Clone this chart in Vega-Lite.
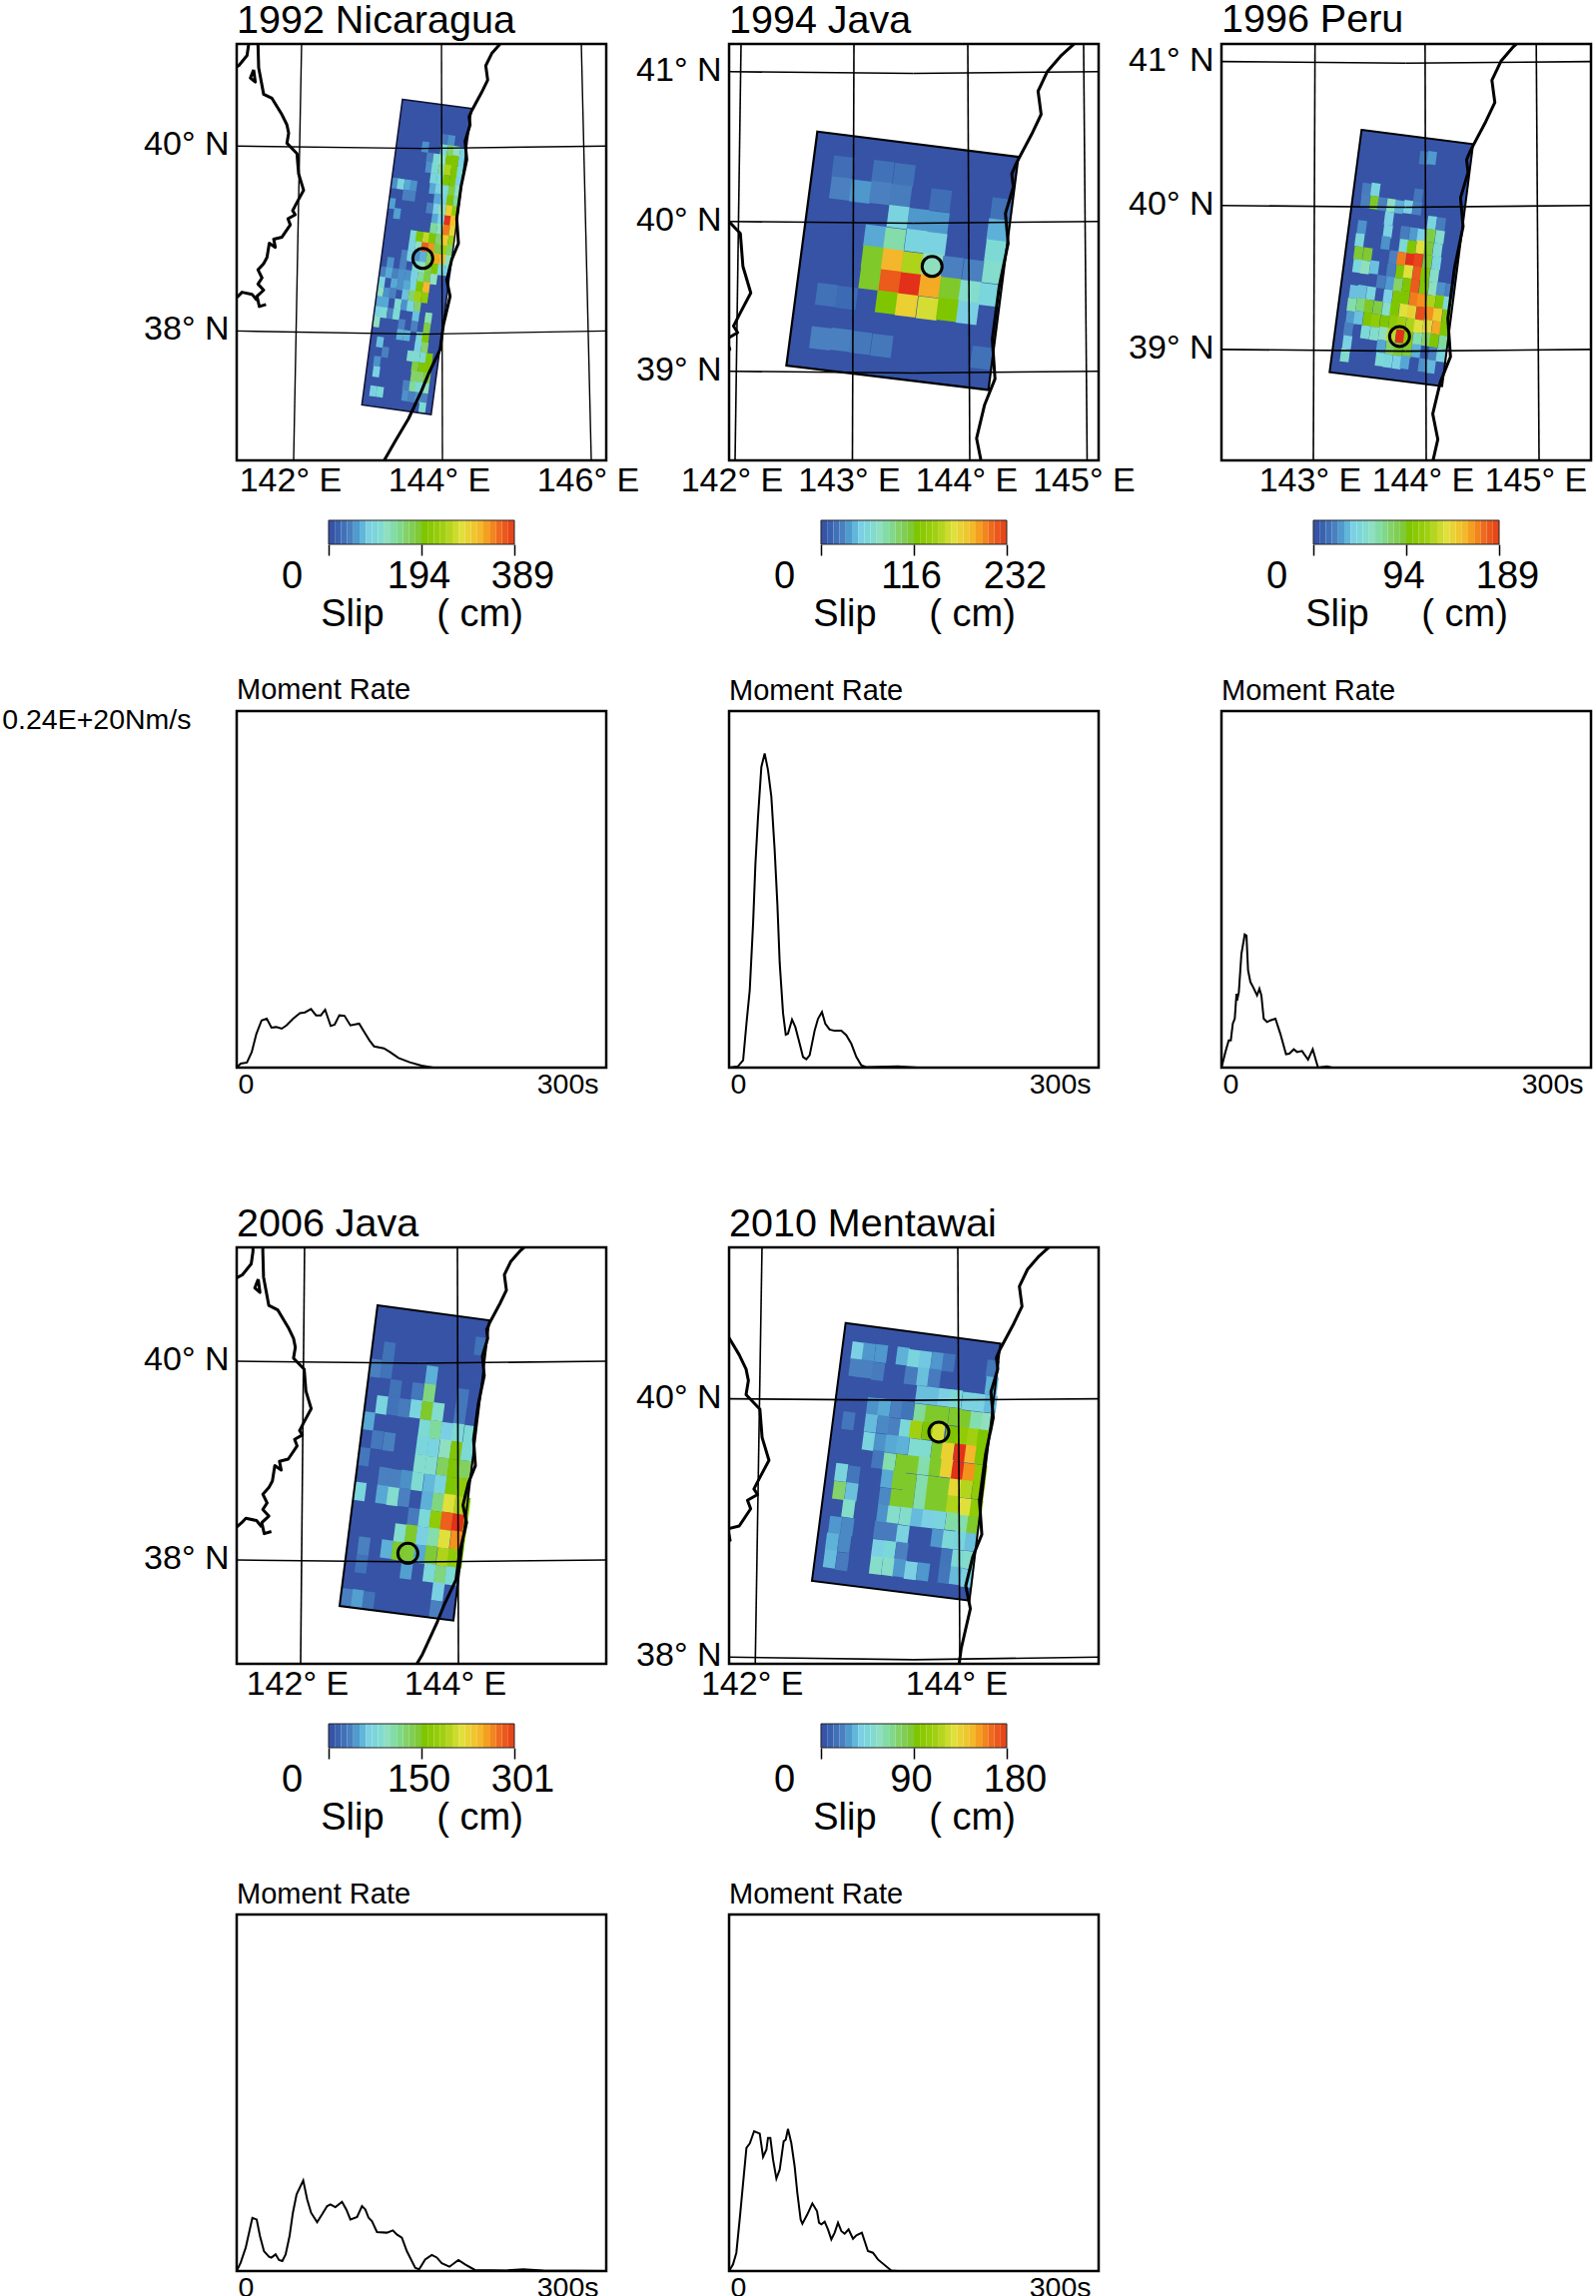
{"$schema":"https://vega.github.io/schema/vega-lite/v6.json","padding":{"left":0,"top":-2,"right":0,"bottom":0},"background":"white",
"config":{"font":"Liberation Sans","view":{"stroke":"black","strokeWidth":2.5},"axis":{"grid":false,"ticks":false,"domain":false,"labelColor":"black","titleColor":"black","labelFont":"Liberation Sans","titleFont":"Liberation Sans","titleFontWeight":"normal","labelLimit":400},"title":{"anchor":"start","frame":"group","font":"Liberation Sans","fontWeight":"normal","color":"black"}},
"datasets":{
"coast":[{"seg":"e","i":0,"lon":145.05,"lat":41.3},{"seg":"e","i":1,"lon":144.774,"lat":41.104},{"seg":"e","i":2,"lon":144.662,"lat":41.002},{"seg":"e","i":3,"lon":144.582,"lat":40.87},{"seg":"e","i":4,"lon":144.608,"lat":40.715},{"seg":"e","i":5,"lon":144.528,"lat":40.583},{"seg":"e","i":6,"lon":144.394,"lat":40.384},{"seg":"e","i":7,"lon":144.358,"lat":40.318},{"seg":"e","i":8,"lon":144.371,"lat":40.23},{"seg":"e","i":9,"lon":144.304,"lat":40.053},{"seg":"e","i":10,"lon":144.327,"lat":39.854},{"seg":"e","i":11,"lon":144.251,"lat":39.567},{"seg":"e","i":12,"lon":144.192,"lat":39.214},{"seg":"e","i":13,"lon":144.215,"lat":38.949},{"seg":"e","i":14,"lon":144.125,"lat":38.773},{"seg":"e","i":15,"lon":144.058,"lat":38.552},{"seg":"e","i":16,"lon":144.103,"lat":38.375},{"seg":"e","i":17,"lon":144.013,"lat":38.066},{"seg":"e","i":18,"lon":143.969,"lat":37.801},{"seg":"e","i":19,"lon":143.812,"lat":37.536},{"seg":"e","i":20,"lon":143.723,"lat":37.36},{"seg":"e","i":21,"lon":143.544,"lat":37.051},{"seg":"e","i":22,"lon":143.365,"lat":36.808},{"seg":"e","i":23,"lon":143.208,"lat":36.587},
{"seg":"w","i":0,"lon":141.52,"lat":41.3},{"seg":"w","i":1,"lon":141.521,"lat":41.104},{"seg":"w","i":2,"lon":141.53,"lat":40.848},{"seg":"w","i":3,"lon":141.597,"lat":40.561},{"seg":"w","i":4,"lon":141.709,"lat":40.517},{"seg":"w","i":5,"lon":141.843,"lat":40.34},{"seg":"w","i":6,"lon":141.91,"lat":40.23},{"seg":"w","i":7,"lon":141.933,"lat":40.141},{"seg":"w","i":8,"lon":141.91,"lat":40.031},{"seg":"w","i":9,"lon":142.045,"lat":39.92},{"seg":"w","i":10,"lon":142.067,"lat":39.7},{"seg":"w","i":11,"lon":142.134,"lat":39.523},{"seg":"w","i":12,"lon":142.045,"lat":39.391},{"seg":"w","i":13,"lon":141.987,"lat":39.302},{"seg":"w","i":14,"lon":142.022,"lat":39.258},{"seg":"w","i":15,"lon":141.924,"lat":39.214},{"seg":"w","i":16,"lon":141.955,"lat":39.148},{"seg":"w","i":17,"lon":141.843,"lat":39.015},{"seg":"w","i":18,"lon":141.732,"lat":38.993},{"seg":"w","i":19,"lon":141.754,"lat":38.905},{"seg":"w","i":20,"lon":141.673,"lat":38.949},{"seg":"w","i":21,"lon":141.642,"lat":38.795},{"seg":"w","i":22,"lon":141.597,"lat":38.728},{"seg":"w","i":23,"lon":141.521,"lat":38.662},{"seg":"w","i":24,"lon":141.575,"lat":38.574},{"seg":"w","i":25,"lon":141.521,"lat":38.508},{"seg":"w","i":26,"lon":141.597,"lat":38.442},{"seg":"w","i":27,"lon":141.508,"lat":38.375},{"seg":"w","i":28,"lon":141.539,"lat":38.265},{"seg":"w","i":29,"lon":141.629,"lat":38.287},
{"seg":"m","i":0,"lon":141.0,"lat":38.2},{"seg":"m","i":1,"lon":141.253,"lat":38.375},{"seg":"m","i":2,"lon":141.306,"lat":38.419},{"seg":"m","i":3,"lon":141.441,"lat":38.397},{"seg":"m","i":4,"lon":141.508,"lat":38.331},
{"seg":"a","i":0,"lon":141.1,"lat":40.8},{"seg":"a","i":1,"lon":141.262,"lat":40.87},{"seg":"a","i":2,"lon":141.374,"lat":40.98},{"seg":"a","i":3,"lon":141.396,"lat":41.104},{"seg":"a","i":4,"lon":141.4,"lat":41.3},
{"seg":"s","i":0,"lon":141.463,"lat":40.826},{"seg":"s","i":1,"lon":141.419,"lat":40.737},{"seg":"s","i":2,"lon":141.485,"lat":40.693},{"seg":"s","i":3,"lon":141.463,"lat":40.826}],
"bar":[{"f":0,"f2":0.0333},{"f":0.0333,"f2":0.0667},{"f":0.0667,"f2":0.1},{"f":0.1,"f2":0.1333},{"f":0.1333,"f2":0.1667},{"f":0.1667,"f2":0.2},{"f":0.2,"f2":0.2333},{"f":0.2333,"f2":0.2667},{"f":0.2667,"f2":0.3},{"f":0.3,"f2":0.3333},{"f":0.3333,"f2":0.3667},{"f":0.3667,"f2":0.4},{"f":0.4,"f2":0.4333},{"f":0.4333,"f2":0.4667},{"f":0.4667,"f2":0.5},{"f":0.5,"f2":0.5333},{"f":0.5333,"f2":0.5667},{"f":0.5667,"f2":0.6},{"f":0.6,"f2":0.6333},{"f":0.6333,"f2":0.6667},{"f":0.6667,"f2":0.7},{"f":0.7,"f2":0.7333},{"f":0.7333,"f2":0.7667},{"f":0.7667,"f2":0.8},{"f":0.8,"f2":0.8333},{"f":0.8333,"f2":0.8667},{"f":0.8667,"f2":0.9},{"f":0.9,"f2":0.9333},{"f":0.9333,"f2":0.9667},{"f":0.9667,"f2":1}],
"barbox":[{"f":0,"f2":1}],
"g1":[{"lon":142.107,"lat":41.105,"lon2":142,"lat2":36.6},{"lon":143.987,"lat":41.105,"lon2":144,"lat2":36.6},{"lon":145.866,"lat":41.105,"lon2":146,"lat2":36.6},{"lon":141.235,"lat":40,"lon2":143.72,"lat2":39.975},{"lon":143.72,"lat":39.975,"lon2":146.2,"lat2":40},{"lon":141.235,"lat":38,"lon2":143.72,"lat2":37.965},{"lon":143.72,"lat":37.965,"lon2":146.2,"lat2":38}],
"g2":[{"lon":142.051,"lat":41.185,"lon2":142,"lat2":38.405},{"lon":143.013,"lat":41.185,"lon2":143,"lat2":38.405},{"lon":143.983,"lat":41.185,"lon2":144,"lat2":38.405},{"lon":144.97,"lat":41.185,"lon2":145,"lat2":38.405},{"lon":141.949,"lat":41,"lon2":143.52,"lat2":40.988},{"lon":143.52,"lat":40.988,"lon2":145.098,"lat2":41},{"lon":141.949,"lat":40,"lon2":143.52,"lat2":39.988},{"lon":143.52,"lat":39.988,"lon2":145.098,"lat2":40},{"lon":141.949,"lat":39,"lon2":143.52,"lat2":38.988},{"lon":143.52,"lat":38.988,"lon2":145.098,"lat2":39}],
"g3":[{"lon":143.015,"lat":41.122,"lon2":143,"lat2":38.229},{"lon":143.99,"lat":41.122,"lon2":144,"lat2":38.229},{"lon":144.975,"lat":41.122,"lon2":145,"lat2":38.229},{"lon":142.186,"lat":41,"lon2":143.82,"lat2":40.988},{"lon":143.82,"lat":40.988,"lon2":145.46,"lat2":41},{"lon":142.186,"lat":40,"lon2":143.82,"lat2":39.988},{"lon":143.82,"lat":39.988,"lon2":145.46,"lat2":40},{"lon":142.186,"lat":39,"lon2":143.82,"lat2":38.988},{"lon":143.82,"lat":38.988,"lon2":145.46,"lat2":39}],
"g4":[{"lon":142.05,"lat":41.146,"lon2":142,"lat2":36.955},{"lon":143.987,"lat":41.146,"lon2":144,"lat2":36.955},{"lon":141.19,"lat":40,"lon2":143.5,"lat2":39.98},{"lon":143.5,"lat":39.98,"lon2":145.873,"lat2":40},{"lon":141.19,"lat":38,"lon2":143.5,"lat2":37.98},{"lon":143.5,"lat":37.98,"lon2":145.873,"lat2":38}],
"g5":[{"lon":142.066,"lat":41.172,"lon2":142,"lat2":37.948},{"lon":143.98,"lat":41.172,"lon2":144,"lat2":37.948},{"lon":141.744,"lat":40,"lon2":143.55,"lat2":39.988},{"lon":143.55,"lat":39.988,"lon2":145.357,"lat2":40},{"lon":141.744,"lat":38,"lon2":143.55,"lat2":37.98},{"lon":143.55,"lat":37.98,"lon2":145.357,"lat2":38}],
"p1":[{"lon":144.04,"lat":40.07,"slip":31},{"lon":144.12,"lat":40.06,"slip":47},{"lon":143.77,"lat":39.99,"slip":47},{"lon":144.02,"lat":39.96,"slip":97},{"lon":144.11,"lat":39.95,"slip":156},{"lon":144.19,"lat":39.94,"slip":117},{"lon":144.28,"lat":39.93,"slip":78},{"lon":143.83,"lat":39.87,"slip":39},{"lon":143.92,"lat":39.86,"slip":97},{"lon":144.0,"lat":39.85,"slip":117},{"lon":144.09,"lat":39.84,"slip":195},{"lon":144.17,"lat":39.84,"slip":195},{"lon":144.26,"lat":39.83,"slip":78},{"lon":143.82,"lat":39.77,"slip":47},{"lon":143.9,"lat":39.76,"slip":97},{"lon":143.99,"lat":39.75,"slip":136},{"lon":144.07,"lat":39.74,"slip":241},{"lon":144.16,"lat":39.73,"slip":195},{"lon":144.24,"lat":39.72,"slip":97},{"lon":143.88,"lat":39.65,"slip":86},{"lon":143.97,"lat":39.64,"slip":97},{"lon":144.05,"lat":39.63,"slip":195},{"lon":144.14,"lat":39.62,"slip":195},{"lon":144.22,"lat":39.61,"slip":78},{"lon":143.36,"lat":39.6,"slip":47},{"lon":143.44,"lat":39.59,"slip":86},{"lon":143.53,"lat":39.58,"slip":58},{"lon":143.61,"lat":39.57,"slip":47},{"lon":143.87,"lat":39.54,"slip":58},{"lon":143.95,"lat":39.53,"slip":78},{"lon":144.04,"lat":39.52,"slip":97},{"lon":144.12,"lat":39.51,"slip":175},{"lon":144.21,"lat":39.51,"slip":117},{"lon":143.51,"lat":39.47,"slip":39},{"lon":143.59,"lat":39.46,"slip":39},{"lon":143.93,"lat":39.43,"slip":58},{"lon":144.02,"lat":39.42,"slip":78},{"lon":144.1,"lat":39.41,"slip":195},{"lon":144.19,"lat":39.4,"slip":136},{"lon":143.32,"lat":39.38,"slip":54},{"lon":143.83,"lat":39.33,"slip":39},{"lon":143.92,"lat":39.32,"slip":78},{"lon":144.0,"lat":39.31,"slip":117},{"lon":144.09,"lat":39.3,"slip":292},{"lon":144.17,"lat":39.29,"slip":214},{"lon":143.39,"lat":39.27,"slip":54},{"lon":143.9,"lat":39.21,"slip":58},{"lon":143.98,"lat":39.2,"slip":78},{"lon":144.07,"lat":39.19,"slip":389},{"lon":144.15,"lat":39.19,"slip":303},{"lon":143.88,"lat":39.11,"slip":136},{"lon":143.97,"lat":39.1,"slip":117},{"lon":144.05,"lat":39.09,"slip":342},{"lon":144.14,"lat":39.08,"slip":280},{"lon":143.61,"lat":39.03,"slip":97},{"lon":143.69,"lat":39.02,"slip":195},{"lon":143.78,"lat":39.01,"slip":253},{"lon":143.86,"lat":39.0,"slip":195},{"lon":143.95,"lat":38.99,"slip":156},{"lon":144.03,"lat":38.98,"slip":292},{"lon":144.12,"lat":38.97,"slip":233},{"lon":143.59,"lat":38.92,"slip":86},{"lon":143.68,"lat":38.91,"slip":117},{"lon":143.76,"lat":38.9,"slip":358},{"lon":143.85,"lat":38.89,"slip":331},{"lon":143.93,"lat":38.88,"slip":175},{"lon":144.02,"lat":38.87,"slip":233},{"lon":144.1,"lat":38.87,"slip":156},{"lon":143.49,"lat":38.82,"slip":39},{"lon":143.57,"lat":38.81,"slip":78},{"lon":143.66,"lat":38.81,"slip":47},{"lon":143.74,"lat":38.8,"slip":62},{"lon":143.83,"lat":38.79,"slip":156},{"lon":143.91,"lat":38.78,"slip":319},{"lon":144.0,"lat":38.77,"slip":303},{"lon":144.08,"lat":38.76,"slip":117},{"lon":143.3,"lat":38.74,"slip":47},{"lon":143.47,"lat":38.72,"slip":39},{"lon":143.64,"lat":38.7,"slip":97},{"lon":143.73,"lat":38.69,"slip":117},{"lon":143.81,"lat":38.68,"slip":175},{"lon":143.9,"lat":38.67,"slip":195},{"lon":143.98,"lat":38.66,"slip":97},{"lon":144.07,"lat":38.65,"slip":78},{"lon":143.2,"lat":38.64,"slip":39},{"lon":143.28,"lat":38.63,"slip":58},{"lon":143.37,"lat":38.62,"slip":39},{"lon":143.45,"lat":38.61,"slip":47},{"lon":143.54,"lat":38.6,"slip":47},{"lon":143.62,"lat":38.59,"slip":78},{"lon":143.71,"lat":38.58,"slip":136},{"lon":143.79,"lat":38.57,"slip":175},{"lon":143.88,"lat":38.56,"slip":117},{"lon":143.18,"lat":38.53,"slip":86},{"lon":143.35,"lat":38.51,"slip":58},{"lon":143.44,"lat":38.5,"slip":47},{"lon":143.52,"lat":38.49,"slip":58},{"lon":143.61,"lat":38.48,"slip":86},{"lon":143.69,"lat":38.48,"slip":195},{"lon":143.78,"lat":38.47,"slip":311},{"lon":143.16,"lat":38.42,"slip":117},{"lon":143.25,"lat":38.41,"slip":47},{"lon":143.33,"lat":38.41,"slip":39},{"lon":143.5,"lat":38.39,"slip":70},{"lon":143.59,"lat":38.38,"slip":156},{"lon":143.67,"lat":38.37,"slip":233},{"lon":143.76,"lat":38.36,"slip":214},{"lon":143.15,"lat":38.32,"slip":58},{"lon":143.23,"lat":38.31,"slip":58},{"lon":143.4,"lat":38.29,"slip":101},{"lon":143.49,"lat":38.28,"slip":47},{"lon":143.57,"lat":38.27,"slip":86},{"lon":143.66,"lat":38.26,"slip":156},{"lon":143.13,"lat":38.21,"slip":78},{"lon":143.21,"lat":38.2,"slip":97},{"lon":143.3,"lat":38.19,"slip":39},{"lon":143.38,"lat":38.18,"slip":97},{"lon":143.64,"lat":38.16,"slip":70},{"lon":143.81,"lat":38.14,"slip":124},{"lon":143.11,"lat":38.1,"slip":117},{"lon":143.45,"lat":38.07,"slip":39},{"lon":143.62,"lat":38.05,"slip":39},{"lon":143.79,"lat":38.03,"slip":175},{"lon":143.43,"lat":37.96,"slip":62},{"lon":143.52,"lat":37.95,"slip":62},{"lon":143.69,"lat":37.93,"slip":86},{"lon":143.77,"lat":37.92,"slip":195},{"lon":143.16,"lat":37.88,"slip":70},{"lon":143.67,"lat":37.83,"slip":78},{"lon":143.76,"lat":37.82,"slip":156},{"lon":143.23,"lat":37.77,"slip":39},{"lon":143.57,"lat":37.73,"slip":101},{"lon":143.65,"lat":37.72,"slip":101},{"lon":143.74,"lat":37.71,"slip":97},{"lon":143.82,"lat":37.7,"slip":195},{"lon":143.12,"lat":37.67,"slip":47},{"lon":143.63,"lat":37.61,"slip":175},{"lon":143.72,"lat":37.6,"slip":195},{"lon":143.8,"lat":37.59,"slip":195},{"lon":143.11,"lat":37.56,"slip":78},{"lon":143.62,"lat":37.51,"slip":156},{"lon":143.7,"lat":37.5,"slip":156},{"lon":143.79,"lat":37.49,"slip":175},{"lon":143.51,"lat":37.41,"slip":39},{"lon":143.6,"lat":37.4,"slip":136},{"lon":143.68,"lat":37.39,"slip":97},{"lon":143.77,"lat":37.38,"slip":117},{"lon":143.07,"lat":37.35,"slip":78},{"lon":143.16,"lat":37.34,"slip":93},{"lon":143.5,"lat":37.3,"slip":47},{"lon":143.58,"lat":37.29,"slip":39},{"lon":143.67,"lat":37.28,"slip":47},{"lon":143.75,"lat":37.27,"slip":39},{"lon":143.73,"lat":37.17,"slip":97}],
"p2":[{"lon":142.92,"lat":40.36,"slip":14},{"lon":143.26,"lat":40.33,"slip":16},{"lon":143.44,"lat":40.31,"slip":16},{"lon":142.9,"lat":40.22,"slip":23},{"lon":143.07,"lat":40.2,"slip":30},{"lon":143.24,"lat":40.19,"slip":23},{"lon":143.41,"lat":40.17,"slip":21},{"lon":143.75,"lat":40.14,"slip":14},{"lon":144.27,"lat":40.08,"slip":16},{"lon":143.39,"lat":40.03,"slip":51},{"lon":143.56,"lat":40.01,"slip":30},{"lon":143.73,"lat":39.99,"slip":30},{"lon":144.24,"lat":39.94,"slip":37},{"lon":143.19,"lat":39.9,"slip":35},{"lon":143.36,"lat":39.88,"slip":77},{"lon":143.54,"lat":39.87,"slip":51},{"lon":143.71,"lat":39.85,"slip":49},{"lon":144.22,"lat":39.8,"slip":58},{"lon":143.17,"lat":39.76,"slip":111},{"lon":143.34,"lat":39.74,"slip":186},{"lon":143.51,"lat":39.72,"slip":144},{"lon":143.68,"lat":39.71,"slip":70},{"lon":143.85,"lat":39.69,"slip":23},{"lon":144.03,"lat":39.67,"slip":23},{"lon":144.2,"lat":39.66,"slip":63},{"lon":143.15,"lat":39.62,"slip":111},{"lon":143.32,"lat":39.6,"slip":216},{"lon":143.49,"lat":39.58,"slip":232},{"lon":143.66,"lat":39.57,"slip":190},{"lon":143.83,"lat":39.55,"slip":111},{"lon":144.0,"lat":39.53,"slip":63},{"lon":144.17,"lat":39.51,"slip":53},{"lon":142.78,"lat":39.51,"slip":16},{"lon":142.95,"lat":39.49,"slip":12},{"lon":143.29,"lat":39.46,"slip":116},{"lon":143.46,"lat":39.44,"slip":172},{"lon":143.64,"lat":39.42,"slip":158},{"lon":143.81,"lat":39.41,"slip":116},{"lon":143.98,"lat":39.39,"slip":46},{"lon":142.73,"lat":39.22,"slip":23},{"lon":142.9,"lat":39.21,"slip":23},{"lon":143.07,"lat":39.19,"slip":19},{"lon":143.25,"lat":39.17,"slip":19},{"lon":144.1,"lat":39.09,"slip":16}],
"p3":[{"lon":143.98,"lat":40.33,"slip":15},{"lon":144.05,"lat":40.33,"slip":25},{"lon":143.47,"lat":40.11,"slip":17},{"lon":143.55,"lat":40.11,"slip":42},{"lon":143.93,"lat":40.07,"slip":15},{"lon":143.46,"lat":40.03,"slip":19},{"lon":143.54,"lat":40.02,"slip":91},{"lon":143.61,"lat":40.01,"slip":19},{"lon":143.69,"lat":40.0,"slip":57},{"lon":143.76,"lat":39.99,"slip":30},{"lon":143.84,"lat":39.99,"slip":38},{"lon":143.92,"lat":39.98,"slip":19},{"lon":143.67,"lat":39.91,"slip":38},{"lon":144.05,"lat":39.88,"slip":42},{"lon":144.13,"lat":39.87,"slip":17},{"lon":143.43,"lat":39.85,"slip":23},{"lon":143.66,"lat":39.82,"slip":38},{"lon":143.81,"lat":39.81,"slip":17},{"lon":143.89,"lat":39.8,"slip":25},{"lon":143.96,"lat":39.79,"slip":38},{"lon":144.04,"lat":39.79,"slip":85},{"lon":144.12,"lat":39.78,"slip":51},{"lon":143.41,"lat":39.76,"slip":43},{"lon":143.64,"lat":39.74,"slip":23},{"lon":143.8,"lat":39.72,"slip":47},{"lon":143.87,"lat":39.71,"slip":95},{"lon":143.95,"lat":39.71,"slip":132},{"lon":144.02,"lat":39.7,"slip":89},{"lon":144.1,"lat":39.69,"slip":49},{"lon":143.4,"lat":39.67,"slip":89},{"lon":143.48,"lat":39.66,"slip":89},{"lon":143.71,"lat":39.64,"slip":19},{"lon":143.78,"lat":39.63,"slip":166},{"lon":143.86,"lat":39.62,"slip":189},{"lon":143.93,"lat":39.62,"slip":183},{"lon":144.01,"lat":39.61,"slip":89},{"lon":144.09,"lat":39.6,"slip":45},{"lon":143.39,"lat":39.58,"slip":45},{"lon":143.46,"lat":39.57,"slip":57},{"lon":143.54,"lat":39.57,"slip":34},{"lon":143.69,"lat":39.55,"slip":17},{"lon":143.77,"lat":39.54,"slip":95},{"lon":143.84,"lat":39.54,"slip":132},{"lon":143.92,"lat":39.53,"slip":176},{"lon":143.99,"lat":39.52,"slip":95},{"lon":144.07,"lat":39.51,"slip":53},{"lon":143.6,"lat":39.47,"slip":17},{"lon":143.68,"lat":39.46,"slip":25},{"lon":143.75,"lat":39.45,"slip":76},{"lon":143.83,"lat":39.45,"slip":95},{"lon":143.9,"lat":39.44,"slip":176},{"lon":143.98,"lat":39.43,"slip":95},{"lon":144.06,"lat":39.42,"slip":57},{"lon":144.13,"lat":39.42,"slip":23},{"lon":144.21,"lat":39.41,"slip":19},{"lon":143.36,"lat":39.4,"slip":34},{"lon":143.43,"lat":39.4,"slip":34},{"lon":143.51,"lat":39.39,"slip":42},{"lon":143.66,"lat":39.37,"slip":38},{"lon":143.74,"lat":39.36,"slip":95},{"lon":143.81,"lat":39.36,"slip":95},{"lon":143.89,"lat":39.35,"slip":166},{"lon":143.96,"lat":39.34,"slip":161},{"lon":144.04,"lat":39.33,"slip":117},{"lon":144.12,"lat":39.33,"slip":95},{"lon":144.19,"lat":39.32,"slip":47},{"lon":143.34,"lat":39.31,"slip":62},{"lon":143.42,"lat":39.31,"slip":72},{"lon":143.49,"lat":39.3,"slip":91},{"lon":143.57,"lat":39.29,"slip":85},{"lon":143.65,"lat":39.28,"slip":53},{"lon":143.72,"lat":39.28,"slip":95},{"lon":143.8,"lat":39.27,"slip":132},{"lon":143.87,"lat":39.26,"slip":140},{"lon":143.95,"lat":39.25,"slip":180},{"lon":144.03,"lat":39.25,"slip":161},{"lon":144.1,"lat":39.24,"slip":142},{"lon":144.18,"lat":39.23,"slip":95},{"lon":143.33,"lat":39.22,"slip":25},{"lon":143.4,"lat":39.22,"slip":34},{"lon":143.48,"lat":39.21,"slip":95},{"lon":143.55,"lat":39.2,"slip":104},{"lon":143.63,"lat":39.19,"slip":95},{"lon":143.71,"lat":39.19,"slip":104},{"lon":143.78,"lat":39.18,"slip":113},{"lon":143.86,"lat":39.17,"slip":117},{"lon":143.93,"lat":39.16,"slip":132},{"lon":144.01,"lat":39.16,"slip":136},{"lon":144.09,"lat":39.15,"slip":155},{"lon":144.16,"lat":39.14,"slip":95},{"lon":143.31,"lat":39.14,"slip":19},{"lon":143.46,"lat":39.12,"slip":47},{"lon":143.54,"lat":39.11,"slip":51},{"lon":143.62,"lat":39.11,"slip":57},{"lon":143.69,"lat":39.1,"slip":123},{"lon":143.77,"lat":39.09,"slip":189},{"lon":143.84,"lat":39.08,"slip":104},{"lon":143.92,"lat":39.07,"slip":62},{"lon":144.0,"lat":39.07,"slip":76},{"lon":144.07,"lat":39.06,"slip":95},{"lon":144.15,"lat":39.05,"slip":66},{"lon":143.3,"lat":39.05,"slip":38},{"lon":143.6,"lat":39.02,"slip":28},{"lon":143.68,"lat":39.01,"slip":76},{"lon":143.75,"lat":39.0,"slip":89},{"lon":143.83,"lat":38.99,"slip":89},{"lon":143.91,"lat":38.99,"slip":30},{"lon":144.06,"lat":38.97,"slip":19},{"lon":144.13,"lat":38.96,"slip":42},{"lon":143.28,"lat":38.96,"slip":51},{"lon":143.59,"lat":38.93,"slip":47},{"lon":143.66,"lat":38.92,"slip":42},{"lon":143.74,"lat":38.91,"slip":38},{"lon":143.81,"lat":38.91,"slip":28},{"lon":143.97,"lat":38.89,"slip":23},{"lon":144.04,"lat":38.88,"slip":32}],
"p4":[{"lon":144.07,"lat":38.54,"slip":150},{"lon":144.04,"lat":38.36,"slip":166},{"lon":144.01,"lat":38.19,"slip":166},{"lon":143.98,"lat":38.01,"slip":150},{"lon":144.28,"lat":40.15,"slip":21},{"lon":143.12,"lat":40.1,"slip":21},{"lon":142.95,"lat":39.93,"slip":30},{"lon":143.09,"lat":39.92,"slip":21},{"lon":143.66,"lat":39.86,"slip":48},{"lon":143.2,"lat":39.72,"slip":21},{"lon":143.48,"lat":39.69,"slip":24},{"lon":143.63,"lat":39.68,"slip":114},{"lon":144.05,"lat":39.63,"slip":24},{"lon":143.03,"lat":39.56,"slip":66},{"lon":143.17,"lat":39.55,"slip":21},{"lon":143.31,"lat":39.53,"slip":27},{"lon":143.46,"lat":39.52,"slip":66},{"lon":143.6,"lat":39.5,"slip":144},{"lon":143.74,"lat":39.49,"slip":81},{"lon":144.02,"lat":39.46,"slip":24},{"lon":142.86,"lat":39.4,"slip":45},{"lon":143.57,"lat":39.32,"slip":75},{"lon":143.71,"lat":39.31,"slip":105},{"lon":143.85,"lat":39.29,"slip":60},{"lon":143.99,"lat":39.28,"slip":75},{"lon":144.14,"lat":39.26,"slip":75},{"lon":142.97,"lat":39.21,"slip":24},{"lon":143.12,"lat":39.19,"slip":30},{"lon":143.54,"lat":39.15,"slip":69},{"lon":143.68,"lat":39.13,"slip":66},{"lon":143.83,"lat":39.12,"slip":90},{"lon":143.97,"lat":39.1,"slip":150},{"lon":144.11,"lat":39.09,"slip":75},{"lon":142.8,"lat":39.04,"slip":24},{"lon":143.51,"lat":38.97,"slip":81},{"lon":143.65,"lat":38.95,"slip":81},{"lon":143.8,"lat":38.94,"slip":126},{"lon":143.94,"lat":38.92,"slip":150},{"lon":144.08,"lat":38.91,"slip":126},{"lon":143.06,"lat":38.84,"slip":30},{"lon":143.2,"lat":38.82,"slip":30},{"lon":143.34,"lat":38.81,"slip":36},{"lon":143.48,"lat":38.79,"slip":78},{"lon":143.63,"lat":38.77,"slip":51},{"lon":143.77,"lat":38.76,"slip":66},{"lon":143.91,"lat":38.74,"slip":150},{"lon":144.05,"lat":38.73,"slip":166},{"lon":142.75,"lat":38.69,"slip":69},{"lon":143.03,"lat":38.66,"slip":45},{"lon":143.17,"lat":38.64,"slip":81},{"lon":143.31,"lat":38.63,"slip":30},{"lon":143.6,"lat":38.6,"slip":48},{"lon":143.74,"lat":38.58,"slip":114},{"lon":143.88,"lat":38.57,"slip":211},{"lon":144.02,"lat":38.55,"slip":187},{"lon":143.43,"lat":38.43,"slip":27},{"lon":143.57,"lat":38.42,"slip":72},{"lon":143.71,"lat":38.4,"slip":166},{"lon":143.85,"lat":38.39,"slip":277},{"lon":143.99,"lat":38.37,"slip":301},{"lon":143.26,"lat":38.27,"slip":81},{"lon":143.4,"lat":38.26,"slip":144},{"lon":143.54,"lat":38.24,"slip":60},{"lon":143.68,"lat":38.23,"slip":99},{"lon":143.82,"lat":38.21,"slip":211},{"lon":143.97,"lat":38.2,"slip":256},{"lon":142.8,"lat":38.14,"slip":30},{"lon":143.09,"lat":38.11,"slip":48},{"lon":143.23,"lat":38.09,"slip":144},{"lon":143.37,"lat":38.08,"slip":141},{"lon":143.51,"lat":38.06,"slip":45},{"lon":143.65,"lat":38.05,"slip":141},{"lon":143.8,"lat":38.03,"slip":187},{"lon":143.94,"lat":38.02,"slip":166},{"lon":142.77,"lat":37.96,"slip":21},{"lon":143.34,"lat":37.9,"slip":42},{"lon":143.63,"lat":37.87,"slip":72},{"lon":143.77,"lat":37.85,"slip":114},{"lon":143.91,"lat":37.84,"slip":75},{"lon":143.74,"lat":37.68,"slip":60},{"lon":142.58,"lat":37.62,"slip":30},{"lon":142.72,"lat":37.61,"slip":42},{"lon":142.86,"lat":37.59,"slip":21},{"lon":143.71,"lat":37.5,"slip":30}],
"p5":[{"lon":143.0,"lat":40.37,"slip":36},{"lon":143.11,"lat":40.36,"slip":23},{"lon":143.23,"lat":40.35,"slip":23},{"lon":143.44,"lat":40.33,"slip":29},{"lon":143.55,"lat":40.31,"slip":40},{"lon":143.66,"lat":40.3,"slip":34},{"lon":143.78,"lat":40.29,"slip":23},{"lon":143.89,"lat":40.28,"slip":13},{"lon":144.32,"lat":40.23,"slip":14},{"lon":142.98,"lat":40.24,"slip":18},{"lon":143.09,"lat":40.23,"slip":18},{"lon":143.2,"lat":40.21,"slip":16},{"lon":143.52,"lat":40.18,"slip":16},{"lon":143.64,"lat":40.17,"slip":32},{"lon":143.75,"lat":40.16,"slip":16},{"lon":144.31,"lat":40.1,"slip":29},{"lon":143.63,"lat":40.03,"slip":32},{"lon":143.74,"lat":40.02,"slip":32},{"lon":143.85,"lat":40.01,"slip":36},{"lon":143.96,"lat":40.0,"slip":45},{"lon":144.08,"lat":39.98,"slip":38},{"lon":144.19,"lat":39.97,"slip":38},{"lon":144.3,"lat":39.96,"slip":31},{"lon":143.15,"lat":39.94,"slip":22},{"lon":143.26,"lat":39.93,"slip":27},{"lon":143.38,"lat":39.92,"slip":18},{"lon":143.49,"lat":39.91,"slip":13},{"lon":143.61,"lat":39.89,"slip":63},{"lon":143.72,"lat":39.88,"slip":86},{"lon":143.83,"lat":39.87,"slip":86},{"lon":143.95,"lat":39.86,"slip":86},{"lon":144.06,"lat":39.84,"slip":86},{"lon":144.16,"lat":39.83,"slip":59},{"lon":144.27,"lat":39.82,"slip":54},{"lon":142.91,"lat":39.83,"slip":14},{"lon":143.13,"lat":39.81,"slip":31},{"lon":143.25,"lat":39.8,"slip":20},{"lon":143.36,"lat":39.78,"slip":18},{"lon":143.47,"lat":39.77,"slip":43},{"lon":143.57,"lat":39.76,"slip":108},{"lon":143.69,"lat":39.75,"slip":90},{"lon":143.79,"lat":39.74,"slip":122},{"lon":143.92,"lat":39.72,"slip":90},{"lon":144.03,"lat":39.71,"slip":99},{"lon":144.13,"lat":39.7,"slip":108},{"lon":144.23,"lat":39.69,"slip":90},{"lon":143.11,"lat":39.67,"slip":40},{"lon":143.22,"lat":39.66,"slip":22},{"lon":143.33,"lat":39.65,"slip":27},{"lon":143.44,"lat":39.64,"slip":29},{"lon":143.56,"lat":39.62,"slip":47},{"lon":143.66,"lat":39.61,"slip":47},{"lon":143.78,"lat":39.6,"slip":86},{"lon":143.88,"lat":39.59,"slip":133},{"lon":144.0,"lat":39.58,"slip":180},{"lon":144.11,"lat":39.57,"slip":144},{"lon":144.21,"lat":39.56,"slip":90},{"lon":143.2,"lat":39.53,"slip":14},{"lon":143.31,"lat":39.51,"slip":59},{"lon":143.43,"lat":39.5,"slip":86},{"lon":143.54,"lat":39.49,"slip":86},{"lon":143.65,"lat":39.48,"slip":59},{"lon":143.76,"lat":39.47,"slip":86},{"lon":143.87,"lat":39.46,"slip":133},{"lon":143.98,"lat":39.44,"slip":180},{"lon":144.09,"lat":39.43,"slip":153},{"lon":144.2,"lat":39.42,"slip":99},{"lon":142.84,"lat":39.43,"slip":40},{"lon":142.96,"lat":39.41,"slip":14},{"lon":143.29,"lat":39.38,"slip":27},{"lon":143.4,"lat":39.37,"slip":86},{"lon":143.51,"lat":39.35,"slip":86},{"lon":143.63,"lat":39.34,"slip":59},{"lon":143.74,"lat":39.33,"slip":86},{"lon":143.84,"lat":39.32,"slip":86},{"lon":143.95,"lat":39.31,"slip":130},{"lon":144.06,"lat":39.3,"slip":113},{"lon":144.18,"lat":39.29,"slip":99},{"lon":142.82,"lat":39.29,"slip":72},{"lon":142.94,"lat":39.28,"slip":32},{"lon":143.27,"lat":39.24,"slip":20},{"lon":143.38,"lat":39.23,"slip":86},{"lon":143.49,"lat":39.22,"slip":86},{"lon":143.61,"lat":39.21,"slip":59},{"lon":143.72,"lat":39.2,"slip":86},{"lon":143.82,"lat":39.19,"slip":86},{"lon":143.93,"lat":39.18,"slip":112},{"lon":144.05,"lat":39.16,"slip":126},{"lon":144.16,"lat":39.15,"slip":99},{"lon":142.91,"lat":39.15,"slip":49},{"lon":143.25,"lat":39.11,"slip":22},{"lon":143.35,"lat":39.1,"slip":50},{"lon":143.47,"lat":39.09,"slip":49},{"lon":143.58,"lat":39.08,"slip":31},{"lon":143.69,"lat":39.07,"slip":36},{"lon":143.8,"lat":39.06,"slip":40},{"lon":143.92,"lat":39.05,"slip":61},{"lon":144.03,"lat":39.03,"slip":59},{"lon":144.13,"lat":39.02,"slip":86},{"lon":142.78,"lat":39.02,"slip":23},{"lon":142.9,"lat":39.01,"slip":20},{"lon":143.22,"lat":38.98,"slip":16},{"lon":143.33,"lat":38.97,"slip":16},{"lon":143.44,"lat":38.95,"slip":38},{"lon":143.78,"lat":38.92,"slip":23},{"lon":143.89,"lat":38.91,"slip":43},{"lon":144.0,"lat":38.9,"slip":40},{"lon":144.11,"lat":38.89,"slip":32},{"lon":142.75,"lat":38.89,"slip":29},{"lon":142.87,"lat":38.88,"slip":20},{"lon":143.2,"lat":38.84,"slip":36},{"lon":143.31,"lat":38.83,"slip":43},{"lon":143.43,"lat":38.82,"slip":18},{"lon":143.87,"lat":38.77,"slip":13},{"lon":143.98,"lat":38.76,"slip":45},{"lon":144.09,"lat":38.75,"slip":49},{"lon":142.73,"lat":38.76,"slip":31},{"lon":142.85,"lat":38.74,"slip":16},{"lon":143.18,"lat":38.71,"slip":50},{"lon":143.3,"lat":38.7,"slip":50},{"lon":143.41,"lat":38.69,"slip":23},{"lon":143.52,"lat":38.67,"slip":36},{"lon":143.64,"lat":38.66,"slip":23},{"lon":143.85,"lat":38.64,"slip":14},{"lon":143.96,"lat":38.63,"slip":31},{"lon":144.07,"lat":38.61,"slip":36}],
"m1":[{"t":0,"rate":0},{"t":3.2,"rate":0.0027},{"t":8.3,"rate":0.0034},{"t":12.2,"rate":0.0105},{"t":16,"rate":0.0228},{"t":20.2,"rate":0.0318},{"t":24.4,"rate":0.0329},{"t":28.2,"rate":0.0269},{"t":32,"rate":0.0273},{"t":36.5,"rate":0.0262},{"t":40.4,"rate":0.0284},{"t":45.8,"rate":0.0329},{"t":51.3,"rate":0.0367},{"t":55.4,"rate":0.0372},{"t":60.3,"rate":0.0394},{"t":64.4,"rate":0.0352},{"t":68.3,"rate":0.0352},{"t":71.8,"rate":0.039},{"t":76.3,"rate":0.028},{"t":79.5,"rate":0.0289},{"t":83.3,"rate":0.0352},{"t":87.5,"rate":0.0349},{"t":92.3,"rate":0.0284},{"t":99.4,"rate":0.0296},{"t":103.5,"rate":0.024},{"t":107.7,"rate":0.0184},{"t":111.5,"rate":0.0143},{"t":119.5,"rate":0.013},{"t":124.4,"rate":0.0105},{"t":131.4,"rate":0.0065},{"t":140.4,"rate":0.0036},{"t":150,"rate":0.0013},{"t":159.6,"rate":0},{"t":300,"rate":0}],
"m2":[{"t":0,"rate":0},{"t":7.3,"rate":0.0009},{"t":11.4,"rate":0.0049},{"t":14.1,"rate":0.0296},{"t":16.8,"rate":0.0524},{"t":19.5,"rate":0.0972},{"t":21.4,"rate":0.1375},{"t":23.5,"rate":0.1687},{"t":26.2,"rate":0.2024},{"t":28.9,"rate":0.2115},{"t":31.6,"rate":0.2003},{"t":34.3,"rate":0.1824},{"t":37,"rate":0.1465},{"t":39.2,"rate":0.1102},{"t":41.1,"rate":0.0703},{"t":43.8,"rate":0.0367},{"t":46,"rate":0.0222},{"t":47.8,"rate":0.0228},{"t":51.1,"rate":0.0323},{"t":53.8,"rate":0.0273},{"t":57.3,"rate":0.0161},{"t":60,"rate":0.0072},{"t":62.7,"rate":0.0056},{"t":65.4,"rate":0.0083},{"t":69.5,"rate":0.0251},{"t":72.2,"rate":0.0329},{"t":75.4,"rate":0.0374},{"t":78.1,"rate":0.0296},{"t":81.6,"rate":0.0256},{"t":85.7,"rate":0.0248},{"t":91.1,"rate":0.0248},{"t":95.1,"rate":0.0219},{"t":99.2,"rate":0.0161},{"t":103.3,"rate":0.0072},{"t":107.3,"rate":0.0016},{"t":111.4,"rate":0.0004},{"t":137,"rate":0.0009},{"t":153,"rate":0},{"t":300,"rate":0}],
"m3":[{"t":0,"rate":0},{"t":3.2,"rate":0.0105},{"t":5.9,"rate":0.0184},{"t":7.6,"rate":0.0184},{"t":9.2,"rate":0.0296},{"t":10.8,"rate":0.033},{"t":12.2,"rate":0.0497},{"t":12.7,"rate":0.0452},{"t":14.1,"rate":0.0508},{"t":16.2,"rate":0.0766},{"t":18.9,"rate":0.0896},{"t":20.3,"rate":0.0889},{"t":21.6,"rate":0.0654},{"t":23.5,"rate":0.0576},{"t":25.7,"rate":0.0542},{"t":28.9,"rate":0.0486},{"t":30.8,"rate":0.0531},{"t":32.4,"rate":0.0486},{"t":34.3,"rate":0.0329},{"t":37,"rate":0.0307},{"t":39.7,"rate":0.0318},{"t":43.8,"rate":0.0329},{"t":47.8,"rate":0.0228},{"t":52.4,"rate":0.009},{"t":55.1,"rate":0.0094},{"t":58.7,"rate":0.0123},{"t":61.4,"rate":0.0105},{"t":65.4,"rate":0.0112},{"t":70.3,"rate":0.0054},{"t":74.1,"rate":0.0123},{"t":78.4,"rate":0},{"t":85.7,"rate":0.0009},{"t":89.7,"rate":0},{"t":300,"rate":0}],
"m4":[{"t":0,"rate":0},{"t":3.2,"rate":0.0056},{"t":7.3,"rate":0.0157},{"t":12.7,"rate":0.0358},{"t":16.2,"rate":0.0347},{"t":18.9,"rate":0.0235},{"t":22.1,"rate":0.0134},{"t":26.2,"rate":0.0096},{"t":28.1,"rate":0.009},{"t":31.6,"rate":0.0112},{"t":34.3,"rate":0.0074},{"t":37,"rate":0.0067},{"t":39.7,"rate":0.0112},{"t":42.9,"rate":0.0235},{"t":45.6,"rate":0.0392},{"t":48.6,"rate":0.0515},{"t":54,"rate":0.0609},{"t":57.2,"rate":0.0482},{"t":60.4,"rate":0.0392},{"t":65.3,"rate":0.0329},{"t":69.3,"rate":0.0381},{"t":73.4,"rate":0.0437},{"t":76.1,"rate":0.0448},{"t":80.1,"rate":0.043},{"t":85.5,"rate":0.0466},{"t":89,"rate":0.0414},{"t":92.3,"rate":0.0347},{"t":97.7,"rate":0.0363},{"t":101.7,"rate":0.0437},{"t":104.4,"rate":0.0414},{"t":107.1,"rate":0.0358},{"t":109.8,"rate":0.0336},{"t":113.9,"rate":0.0262},{"t":121.9,"rate":0.0258},{"t":126.8,"rate":0.0273},{"t":130,"rate":0.0246},{"t":134.1,"rate":0.0224},{"t":138.1,"rate":0.0134},{"t":144.9,"rate":0.0022},{"t":148.1,"rate":0.0011},{"t":153,"rate":0.0078},{"t":158.4,"rate":0.0108},{"t":162.4,"rate":0.0091},{"t":166.5,"rate":0.0052},{"t":172.7,"rate":0.0029},{"t":180,"rate":0.0074},{"t":185.4,"rate":0.0045},{"t":193.4,"rate":0.0007},{"t":219,"rate":0.0004},{"t":232.6,"rate":0.0011},{"t":248.8,"rate":0.0004},{"t":300,"rate":0}],
"m5":[{"t":0,"rate":0},{"t":3.2,"rate":0.0045},{"t":5.9,"rate":0.0123},{"t":8.6,"rate":0.0347},{"t":11.4,"rate":0.0594},{"t":14.1,"rate":0.0829},{"t":16.8,"rate":0.0858},{"t":20.3,"rate":0.0941},{"t":24.9,"rate":0.0925},{"t":27.6,"rate":0.0768},{"t":30.3,"rate":0.0817},{"t":31.6,"rate":0.0896},{"t":33.5,"rate":0.0896},{"t":35.7,"rate":0.075},{"t":38.4,"rate":0.0622},{"t":41.1,"rate":0.0683},{"t":44.3,"rate":0.0873},{"t":46,"rate":0.0884},{"t":47.8,"rate":0.0956},{"t":50.5,"rate":0.0862},{"t":53.2,"rate":0.0706},{"t":55.4,"rate":0.0526},{"t":58.1,"rate":0.0347},{"t":59.5,"rate":0.0318},{"t":63.5,"rate":0.0381},{"t":67.6,"rate":0.0455},{"t":71.4,"rate":0.0403},{"t":73,"rate":0.0325},{"t":74.9,"rate":0.0314},{"t":77.6,"rate":0.0332},{"t":80.3,"rate":0.028},{"t":83,"rate":0.0213},{"t":85.7,"rate":0.0258},{"t":88.4,"rate":0.0325},{"t":91.1,"rate":0.0269},{"t":93.8,"rate":0.0251},{"t":97,"rate":0.028},{"t":100.6,"rate":0.0217},{"t":103.3,"rate":0.024},{"t":107.8,"rate":0.0258},{"t":112.7,"rate":0.0134},{"t":116.8,"rate":0.0123},{"t":120.8,"rate":0.0078},{"t":131.6,"rate":0.0004},{"t":137,"rate":0},{"t":300,"rate":0}]
},
"columns":3,"spacing":{"row":60,"column":123},"bounds":"flush","align":"each","resolve":{"scale":{"color":"independent"}},
"concat":[
{"title":{"text":"1992 Nicaragua","fontSize":39.5,"offset":2.5},"width":370,"height":417,
"encoding":{"x":{"field":"lon","type":"quantitative","title":null,"scale":{"domain":[141.235,146.201],"nice":false,"zero":false},"axis":{"values":[142,144,146],"labelExpr":"datum.value+'° E'","labelFontSize":34,"labelPadding":3,"labelOffset":-3.6,"labelFlush":false,"labelOverlap":false}},"y":{"field":"lat","type":"quantitative","title":null,"scale":{"domain":[36.6,41.105],"nice":false,"zero":false},"axis":{"values":[38,40],"labelExpr":"datum.value+'° N'","labelFontSize":34,"labelPadding":8,"labelOffset":-1.5,"labelFlush":false,"labelOverlap":false}}},
"layer":[
{"data":{"values":[{"lon":143.655,"lat":38.799}]},"mark":{"type":"point","filled":true,"opacity":1,"fill":"#3653a6","size":10000,"shape":"M-.286-3.16L1.1-2.974L.288 3.152L-1.1 2.96Z"}},
{"data":{"name":"p1"},"mark":{"type":"point","filled":true,"opacity":1,"size":115,"shape":"M-.502-1.072L.764-.902L.502 1.072L-.764.902Z"},"encoding":{"color":{"field":"slip","type":"quantitative","legend":null,"scale":{"domain":[0,38.9,77.8,116.7,155.6,194.5,233.4,272.3,311.2,350.1,389],"range":["#3653a6","#4a80bf","#7cd0e4","#90dfc0","#84d26a","#7fc600","#a0d010","#e0e03c","#f4b82c","#ee6a1e","#e2301a"]}}}},
{"data":{"values":[{"lon":143.655,"lat":38.799}]},"mark":{"type":"point","filled":false,"opacity":1,"stroke":"#101030","strokeWidth":1.5,"size":10000,"shape":"M-.286-3.16L1.1-2.974L.288 3.152L-1.1 2.96Z"}},
{"data":{"name":"g1"},"mark":{"type":"rule","color":"black","strokeWidth":1.4,"clip":true},"encoding":{"x2":{"field":"lon2"},"y2":{"field":"lat2"}}},
{"data":{"name":"coast"},"mark":{"type":"line","color":"black","strokeWidth":3,"clip":true,"strokeJoin":"round"},"encoding":{"detail":{"field":"seg"},"order":{"field":"i","type":"quantitative"}}},
{"data":{"values":[{"lon":143.736,"lat":38.785}]},"mark":{"type":"point","shape":"circle","filled":false,"opacity":1,"stroke":"black","strokeWidth":3,"size":400}}
]},
{"title":{"text":"1994 Java","fontSize":39.5,"offset":2.5},"width":370,"height":417,
"encoding":{"x":{"field":"lon","type":"quantitative","title":null,"scale":{"domain":[141.949,145.098],"nice":false,"zero":false},"axis":{"values":[142,143,144,145],"labelExpr":"datum.value+'° E'","labelFontSize":34,"labelPadding":3,"labelOffset":-3.6,"labelFlush":false,"labelOverlap":false}},"y":{"field":"lat","type":"quantitative","title":null,"scale":{"domain":[38.405,41.185],"nice":false,"zero":false},"axis":{"values":[39,40,41],"labelExpr":"datum.value+'° N'","labelFontSize":34,"labelPadding":8,"labelOffset":-1.5,"labelFlush":false,"labelOverlap":false}}},
"layer":[
{"data":{"values":[{"lon":143.428,"lat":39.736}]},"mark":{"type":"point","filled":true,"opacity":1,"fill":"#3653a6","size":10000,"shape":"M-1.708-2.592L2.318-2.086L1.718 2.582L-2.328 2.095Z"}},
{"data":{"name":"p2"},"mark":{"type":"point","filled":true,"opacity":1,"size":105,"shape":"M-1.73-2.38L2.29-1.88L1.73 2.38L-2.29 1.88Z"},"encoding":{"color":{"field":"slip","type":"quantitative","legend":null,"scale":{"domain":[0,23.2,46.4,69.6,92.8,116,139.2,162.4,185.6,208.8,232],"range":["#3653a6","#4a80bf","#7cd0e4","#90dfc0","#84d26a","#7fc600","#a0d010","#e0e03c","#f4b82c","#ee6a1e","#e2301a"]}}}},
{"data":{"values":[{"lon":143.428,"lat":39.736}]},"mark":{"type":"point","filled":false,"opacity":1,"stroke":"black","strokeWidth":2.2,"size":10000,"shape":"M-1.708-2.592L2.318-2.086L1.718 2.582L-2.328 2.095Z"}},
{"data":{"name":"g2"},"mark":{"type":"rule","color":"black","strokeWidth":1.6,"clip":true},"encoding":{"x2":{"field":"lon2"},"y2":{"field":"lat2"}}},
{"data":{"name":"coast"},"mark":{"type":"line","color":"black","strokeWidth":3,"clip":true,"strokeJoin":"round"},"encoding":{"detail":{"field":"seg"},"order":{"field":"i","type":"quantitative"}}},
{"data":{"values":[{"lon":143.679,"lat":39.7}]},"mark":{"type":"point","shape":"circle","filled":false,"opacity":1,"stroke":"black","strokeWidth":3,"size":400}}
]},
{"title":{"text":"1996 Peru","fontSize":39.5,"offset":2.5},"width":370,"height":417,
"encoding":{"x":{"field":"lon","type":"quantitative","title":null,"scale":{"domain":[142.186,145.46],"nice":false,"zero":false},"axis":{"values":[143,144,145],"labelExpr":"datum.value+'° E'","labelFontSize":34,"labelPadding":3,"labelOffset":-3.6,"labelFlush":false,"labelOverlap":false}},"y":{"field":"lat","type":"quantitative","title":null,"scale":{"domain":[38.229,41.122],"nice":false,"zero":false},"axis":{"values":[39,40,41],"labelExpr":"datum.value+'° N'","labelFontSize":34,"labelPadding":8,"labelOffset":-1.5,"labelFlush":false,"labelOverlap":false}}},
"layer":[
{"data":{"values":[{"lon":143.782,"lat":39.634}]},"mark":{"type":"point","filled":true,"opacity":1,"fill":"#3653a6","size":10000,"shape":"M-.802-2.568L1.432-2.282L.812 2.565L-1.442 2.285Z"}},
{"data":{"name":"p3"},"mark":{"type":"point","filled":true,"opacity":1,"size":105,"shape":"M-.691-1.39L1.029-1.17L.691 1.39L-1.029 1.17Z"},"encoding":{"color":{"field":"slip","type":"quantitative","legend":null,"scale":{"domain":[0,18.9,37.8,56.7,75.6,94.5,113.4,132.3,151.2,170.1,189],"range":["#3653a6","#4a80bf","#7cd0e4","#90dfc0","#84d26a","#7fc600","#a0d010","#e0e03c","#f4b82c","#ee6a1e","#e2301a"]}}}},
{"data":{"values":[{"lon":143.782,"lat":39.634}]},"mark":{"type":"point","filled":false,"opacity":1,"stroke":"black","strokeWidth":2,"size":10000,"shape":"M-.802-2.568L1.432-2.282L.812 2.565L-1.442 2.285Z"}},
{"data":{"name":"g3"},"mark":{"type":"rule","color":"black","strokeWidth":1.6,"clip":true},"encoding":{"x2":{"field":"lon2"},"y2":{"field":"lat2"}}},
{"data":{"name":"coast"},"mark":{"type":"line","color":"black","strokeWidth":3,"clip":true,"strokeJoin":"round"},"encoding":{"detail":{"field":"seg"},"order":{"field":"i","type":"quantitative"}}},
{"data":{"values":[{"lon":143.764,"lat":39.09}]},"mark":{"type":"point","shape":"circle","filled":false,"opacity":1,"stroke":"black","strokeWidth":3,"size":400}}
]},
{"width":370,"height":131,"view":{"stroke":null},"layer":[{"data":{"name":"bar"},"mark":{"type":"rect"},"encoding":{"x":{"field":"f","type":"quantitative","title":"Slip\u00a0\u00a0\u00a0\u00a0\u00a0( cm)","scale":{"domain":[-0.4946,1.4946],"nice":false,"zero":false},"axis":{"values":[0,0.5,1],"orient":"bottom","offset":-107,"ticks":true,"tickSize":11,"tickColor":"black","tickWidth":1.5,"labelFontSize":38,"labelPadding":2,"titleFontSize":38,"titlePadding":0,"labelFlush":false,"labelOverlap":false,"labelExpr":"datum.value==0?'0':datum.value==1?'389':'194'","labelOffset":{"condition":[{"test":"datum.value==0","value":-37},{"test":"datum.value==1","value":8}],"value":-3}}},"x2":{"field":"f2"},"y":{"datum":107,"type":"quantitative","scale":{"domain":[0,131],"nice":false},"axis":null},"y2":{"datum":131},"color":{"field":"f","type":"quantitative","legend":null,"scale":{"domain":[0,0.1,0.2,0.3,0.4,0.5,0.6,0.7,0.8,0.9,1],"range":["#3653a6","#4a80bf","#7cd0e4","#90dfc0","#84d26a","#7fc600","#a0d010","#e0e03c","#f4b82c","#ee6a1e","#e2301a"]}}}},{"data":{"name":"barbox"},"mark":{"type":"rect","filled":false,"stroke":"#222222","strokeWidth":1},"encoding":{"x":{"field":"f","type":"quantitative"},"x2":{"field":"f2"},"y":{"datum":107,"type":"quantitative"},"y2":{"datum":131}}}]},
{"width":370,"height":131,"view":{"stroke":null},"layer":[{"data":{"name":"bar"},"mark":{"type":"rect"},"encoding":{"x":{"field":"f","type":"quantitative","title":"Slip\u00a0\u00a0\u00a0\u00a0\u00a0( cm)","scale":{"domain":[-0.4946,1.4946],"nice":false,"zero":false},"axis":{"values":[0,0.5,1],"orient":"bottom","offset":-107,"ticks":true,"tickSize":11,"tickColor":"black","tickWidth":1.5,"labelFontSize":38,"labelPadding":2,"titleFontSize":38,"titlePadding":0,"labelFlush":false,"labelOverlap":false,"labelExpr":"datum.value==0?'0':datum.value==1?'232':'116'","labelOffset":{"condition":[{"test":"datum.value==0","value":-37},{"test":"datum.value==1","value":8}],"value":-3}}},"x2":{"field":"f2"},"y":{"datum":107,"type":"quantitative","scale":{"domain":[0,131],"nice":false},"axis":null},"y2":{"datum":131},"color":{"field":"f","type":"quantitative","legend":null,"scale":{"domain":[0,0.1,0.2,0.3,0.4,0.5,0.6,0.7,0.8,0.9,1],"range":["#3653a6","#4a80bf","#7cd0e4","#90dfc0","#84d26a","#7fc600","#a0d010","#e0e03c","#f4b82c","#ee6a1e","#e2301a"]}}}},{"data":{"name":"barbox"},"mark":{"type":"rect","filled":false,"stroke":"#222222","strokeWidth":1},"encoding":{"x":{"field":"f","type":"quantitative"},"x2":{"field":"f2"},"y":{"datum":107,"type":"quantitative"},"y2":{"datum":131}}}]},
{"width":370,"height":131,"view":{"stroke":null},"layer":[{"data":{"name":"bar"},"mark":{"type":"rect"},"encoding":{"x":{"field":"f","type":"quantitative","title":"Slip\u00a0\u00a0\u00a0\u00a0\u00a0( cm)","scale":{"domain":[-0.4946,1.4946],"nice":false,"zero":false},"axis":{"values":[0,0.5,1],"orient":"bottom","offset":-107,"ticks":true,"tickSize":11,"tickColor":"black","tickWidth":1.5,"labelFontSize":38,"labelPadding":2,"titleFontSize":38,"titlePadding":0,"labelFlush":false,"labelOverlap":false,"labelExpr":"datum.value==0?'0':datum.value==1?'189':'94'","labelOffset":{"condition":[{"test":"datum.value==0","value":-37},{"test":"datum.value==1","value":8}],"value":-3}}},"x2":{"field":"f2"},"y":{"datum":107,"type":"quantitative","scale":{"domain":[0,131],"nice":false},"axis":null},"y2":{"datum":131},"color":{"field":"f","type":"quantitative","legend":null,"scale":{"domain":[0,0.1,0.2,0.3,0.4,0.5,0.6,0.7,0.8,0.9,1],"range":["#3653a6","#4a80bf","#7cd0e4","#90dfc0","#84d26a","#7fc600","#a0d010","#e0e03c","#f4b82c","#ee6a1e","#e2301a"]}}}},{"data":{"name":"barbox"},"mark":{"type":"rect","filled":false,"stroke":"#222222","strokeWidth":1},"encoding":{"x":{"field":"f","type":"quantitative"},"x2":{"field":"f2"},"y":{"datum":107,"type":"quantitative"},"y2":{"datum":131}}}]},
{"title":{"text":"Moment Rate","fontSize":29,"offset":0},"width":370,"height":357,"data":{"name":"m1"},"mark":{"type":"line","color":"black","strokeWidth":2,"clip":true},"encoding":{"x":{"field":"t","type":"quantitative","title":null,"scale":{"domain":[0,300],"nice":false},"axis":{"values":[0,300],"labelFontSize":28.5,"labelPadding":2,"labelFlush":true,"labelExpr":"datum.value==300?'300s':'0'","labelOffset":{"condition":{"test":"datum.value==300","value":-8},"value":1}}},"y":{"field":"rate","type":"quantitative","title":null,"scale":{"domain":[0,0.24],"nice":false},"axis":{"values":[0.24],"labelFontSize":28.5,"labelPadding":46,"labelFlush":false,"labelOffset":8,"labelExpr":"'0.24E+20Nm/s'"}}}},
{"title":{"text":"Moment Rate","fontSize":29,"offset":5.5},"width":370,"height":357,"data":{"name":"m2"},"mark":{"type":"line","color":"black","strokeWidth":2,"clip":true},"encoding":{"x":{"field":"t","type":"quantitative","title":null,"scale":{"domain":[0,300],"nice":false},"axis":{"values":[0,300],"labelFontSize":28.5,"labelPadding":2,"labelFlush":true,"labelExpr":"datum.value==300?'300s':'0'","labelOffset":{"condition":{"test":"datum.value==300","value":-8},"value":1}}},"y":{"field":"rate","type":"quantitative","title":null,"scale":{"domain":[0,0.24],"nice":false},"axis":null}}},
{"title":{"text":"Moment Rate","fontSize":29,"offset":5.5},"width":370,"height":357,"data":{"name":"m3"},"mark":{"type":"line","color":"black","strokeWidth":2,"clip":true},"encoding":{"x":{"field":"t","type":"quantitative","title":null,"scale":{"domain":[0,300],"nice":false},"axis":{"values":[0,300],"labelFontSize":28.5,"labelPadding":2,"labelFlush":true,"labelExpr":"datum.value==300?'300s':'0'","labelOffset":{"condition":{"test":"datum.value==300","value":-8},"value":1}}},"y":{"field":"rate","type":"quantitative","title":null,"scale":{"domain":[0,0.24],"nice":false},"axis":null}}},
{"width":370,"height":60,"view":{"stroke":null},"data":{"values":[{"a":0}]},"mark":{"type":"point","opacity":0},"encoding":{}},
{"width":370,"height":60,"view":{"stroke":null},"data":{"values":[{"a":0}]},"mark":{"type":"point","opacity":0},"encoding":{}},
{"width":370,"height":60,"view":{"stroke":null},"data":{"values":[{"a":0}]},"mark":{"type":"point","opacity":0},"encoding":{}},
{"title":{"text":"2006 Java","fontSize":39.5,"offset":2.5},"width":370,"height":417,
"encoding":{"x":{"field":"lon","type":"quantitative","title":null,"scale":{"domain":[141.19,145.873],"nice":false,"zero":false},"axis":{"values":[142,144],"labelExpr":"datum.value+'° E'","labelFontSize":34,"labelPadding":3,"labelOffset":-3.6,"labelFlush":false,"labelOverlap":false}},"y":{"field":"lat","type":"quantitative","title":null,"scale":{"domain":[36.955,41.146],"nice":false,"zero":false},"axis":{"values":[38,40],"labelExpr":"datum.value+'° N'","labelFontSize":34,"labelPadding":8,"labelOffset":-1.5,"labelFlush":false,"labelOverlap":false}}},
"layer":[
{"data":{"values":[{"lon":143.449,"lat":38.976}]},"mark":{"type":"point","filled":true,"opacity":1,"fill":"#3653a6","size":10000,"shape":"M-.75-3.158L1.49-2.858L.77 3.155L-1.51 2.862Z"}},
{"data":{"name":"p4"},"mark":{"type":"point","filled":true,"opacity":1,"size":105,"shape":"M-.895-1.92L1.345-1.62L.895 1.92L-1.345 1.62Z"},"encoding":{"color":{"field":"slip","type":"quantitative","legend":null,"scale":{"domain":[0,30.1,60.2,90.3,120.4,150.5,180.6,210.7,240.8,270.9,301],"range":["#3653a6","#4a80bf","#7cd0e4","#90dfc0","#84d26a","#7fc600","#a0d010","#e0e03c","#f4b82c","#ee6a1e","#e2301a"]}}}},
{"data":{"values":[{"lon":143.449,"lat":38.976}]},"mark":{"type":"point","filled":false,"opacity":1,"stroke":"black","strokeWidth":2,"size":10000,"shape":"M-.75-3.158L1.49-2.858L.77 3.155L-1.51 2.862Z"}},
{"data":{"name":"g4"},"mark":{"type":"rule","color":"black","strokeWidth":1.6,"clip":true},"encoding":{"x2":{"field":"lon2"},"y2":{"field":"lat2"}}},
{"data":{"name":"coast"},"mark":{"type":"line","color":"black","strokeWidth":3,"clip":true,"strokeJoin":"round"},"encoding":{"detail":{"field":"seg"},"order":{"field":"i","type":"quantitative"}}},
{"data":{"values":[{"lon":143.359,"lat":38.067}]},"mark":{"type":"point","shape":"circle","filled":false,"opacity":1,"stroke":"black","strokeWidth":3,"size":400}}
]},
{"title":{"text":"2010 Mentawai","fontSize":39.5,"offset":2.5},"width":370,"height":417,
"encoding":{"x":{"field":"lon","type":"quantitative","title":null,"scale":{"domain":[141.744,145.357],"nice":false,"zero":false},"axis":{"values":[142,144],"labelExpr":"datum.value+'° E'","labelFontSize":34,"labelPadding":3,"labelOffset":-3.6,"labelFlush":false,"labelOverlap":false}},"y":{"field":"lat","type":"quantitative","title":null,"scale":{"domain":[37.948,41.172],"nice":false,"zero":false},"axis":{"values":[38,40],"labelExpr":"datum.value+'° N'","labelFontSize":34,"labelPadding":8,"labelOffset":-1.5,"labelFlush":false,"labelOverlap":false}}},
"layer":[
{"data":{"values":[{"lon":143.482,"lat":39.51}]},"mark":{"type":"point","filled":true,"opacity":1,"fill":"#3653a6","size":10000,"shape":"M-1.226-2.785L1.874-2.372L1.254 2.775L-1.9 2.38Z"}},
{"data":{"name":"p5"},"mark":{"type":"point","filled":true,"opacity":1,"size":105,"shape":"M-.953-1.885L1.407-1.575L.953 1.885L-1.407 1.575Z"},"encoding":{"color":{"field":"slip","type":"quantitative","legend":null,"scale":{"domain":[0,18,36,54,72,90,108,126,144,162,180],"range":["#3653a6","#4a80bf","#7cd0e4","#90dfc0","#84d26a","#7fc600","#a0d010","#e0e03c","#f4b82c","#ee6a1e","#e2301a"]}}}},
{"data":{"values":[{"lon":143.482,"lat":39.51}]},"mark":{"type":"point","filled":false,"opacity":1,"stroke":"black","strokeWidth":2,"size":10000,"shape":"M-1.226-2.785L1.874-2.372L1.254 2.775L-1.9 2.38Z"}},
{"data":{"name":"g5"},"mark":{"type":"rule","color":"black","strokeWidth":1.6,"clip":true},"encoding":{"x2":{"field":"lon2"},"y2":{"field":"lat2"}}},
{"data":{"name":"coast"},"mark":{"type":"line","color":"black","strokeWidth":3,"clip":true,"strokeJoin":"round"},"encoding":{"detail":{"field":"seg"},"order":{"field":"i","type":"quantitative"}}},
{"data":{"values":[{"lon":143.795,"lat":39.742}]},"mark":{"type":"point","shape":"circle","filled":false,"opacity":1,"stroke":"black","strokeWidth":3,"size":400}}
]},
{"width":370,"height":60,"view":{"stroke":null},"data":{"values":[{"a":0}]},"mark":{"type":"point","opacity":0},"encoding":{}},
{"width":370,"height":131,"view":{"stroke":null},"layer":[{"data":{"name":"bar"},"mark":{"type":"rect"},"encoding":{"x":{"field":"f","type":"quantitative","title":"Slip\u00a0\u00a0\u00a0\u00a0\u00a0( cm)","scale":{"domain":[-0.4946,1.4946],"nice":false,"zero":false},"axis":{"values":[0,0.5,1],"orient":"bottom","offset":-107,"ticks":true,"tickSize":11,"tickColor":"black","tickWidth":1.5,"labelFontSize":38,"labelPadding":2,"titleFontSize":38,"titlePadding":0,"labelFlush":false,"labelOverlap":false,"labelExpr":"datum.value==0?'0':datum.value==1?'301':'150'","labelOffset":{"condition":[{"test":"datum.value==0","value":-37},{"test":"datum.value==1","value":8}],"value":-3}}},"x2":{"field":"f2"},"y":{"datum":107,"type":"quantitative","scale":{"domain":[0,131],"nice":false},"axis":null},"y2":{"datum":131},"color":{"field":"f","type":"quantitative","legend":null,"scale":{"domain":[0,0.1,0.2,0.3,0.4,0.5,0.6,0.7,0.8,0.9,1],"range":["#3653a6","#4a80bf","#7cd0e4","#90dfc0","#84d26a","#7fc600","#a0d010","#e0e03c","#f4b82c","#ee6a1e","#e2301a"]}}}},{"data":{"name":"barbox"},"mark":{"type":"rect","filled":false,"stroke":"#222222","strokeWidth":1},"encoding":{"x":{"field":"f","type":"quantitative"},"x2":{"field":"f2"},"y":{"datum":107,"type":"quantitative"},"y2":{"datum":131}}}]},
{"width":370,"height":131,"view":{"stroke":null},"layer":[{"data":{"name":"bar"},"mark":{"type":"rect"},"encoding":{"x":{"field":"f","type":"quantitative","title":"Slip\u00a0\u00a0\u00a0\u00a0\u00a0( cm)","scale":{"domain":[-0.4946,1.4946],"nice":false,"zero":false},"axis":{"values":[0,0.5,1],"orient":"bottom","offset":-107,"ticks":true,"tickSize":11,"tickColor":"black","tickWidth":1.5,"labelFontSize":38,"labelPadding":2,"titleFontSize":38,"titlePadding":0,"labelFlush":false,"labelOverlap":false,"labelExpr":"datum.value==0?'0':datum.value==1?'180':'90'","labelOffset":{"condition":[{"test":"datum.value==0","value":-37},{"test":"datum.value==1","value":8}],"value":-3}}},"x2":{"field":"f2"},"y":{"datum":107,"type":"quantitative","scale":{"domain":[0,131],"nice":false},"axis":null},"y2":{"datum":131},"color":{"field":"f","type":"quantitative","legend":null,"scale":{"domain":[0,0.1,0.2,0.3,0.4,0.5,0.6,0.7,0.8,0.9,1],"range":["#3653a6","#4a80bf","#7cd0e4","#90dfc0","#84d26a","#7fc600","#a0d010","#e0e03c","#f4b82c","#ee6a1e","#e2301a"]}}}},{"data":{"name":"barbox"},"mark":{"type":"rect","filled":false,"stroke":"#222222","strokeWidth":1},"encoding":{"x":{"field":"f","type":"quantitative"},"x2":{"field":"f2"},"y":{"datum":107,"type":"quantitative"},"y2":{"datum":131}}}]},
{"width":370,"height":60,"view":{"stroke":null},"data":{"values":[{"a":0}]},"mark":{"type":"point","opacity":0},"encoding":{}},
{"title":{"text":"Moment Rate","fontSize":29,"offset":5.5},"width":370,"height":357,"data":{"name":"m4"},"mark":{"type":"line","color":"black","strokeWidth":2,"clip":true},"encoding":{"x":{"field":"t","type":"quantitative","title":null,"scale":{"domain":[0,300],"nice":false},"axis":{"values":[0,300],"labelFontSize":28.5,"labelPadding":2,"labelFlush":true,"labelExpr":"datum.value==300?'300s':'0'","labelOffset":{"condition":{"test":"datum.value==300","value":-8},"value":1}}},"y":{"field":"rate","type":"quantitative","title":null,"scale":{"domain":[0,0.24],"nice":false},"axis":null}}},
{"title":{"text":"Moment Rate","fontSize":29,"offset":5.5},"width":370,"height":357,"data":{"name":"m5"},"mark":{"type":"line","color":"black","strokeWidth":2,"clip":true},"encoding":{"x":{"field":"t","type":"quantitative","title":null,"scale":{"domain":[0,300],"nice":false},"axis":{"values":[0,300],"labelFontSize":28.5,"labelPadding":2,"labelFlush":true,"labelExpr":"datum.value==300?'300s':'0'","labelOffset":{"condition":{"test":"datum.value==300","value":-8},"value":1}}},"y":{"field":"rate","type":"quantitative","title":null,"scale":{"domain":[0,0.24],"nice":false},"axis":null}}}
]}
